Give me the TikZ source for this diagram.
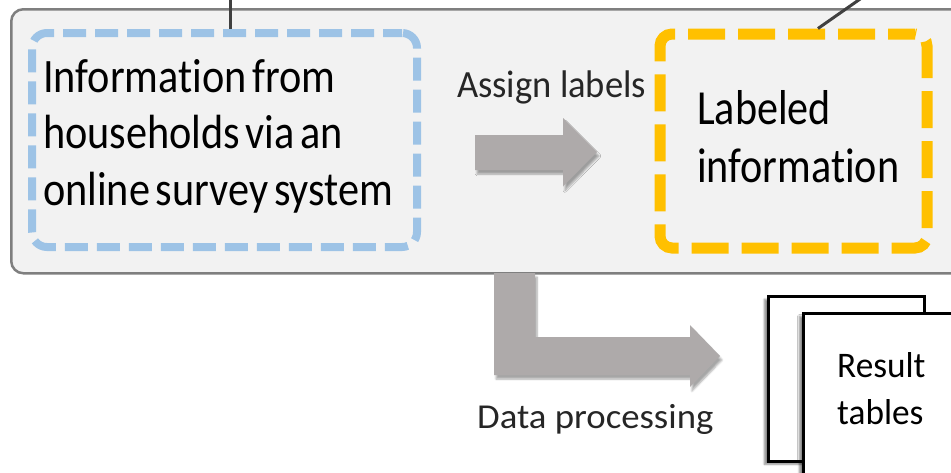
\documentclass[tikz,border=0pt]{standalone}
\usepackage{fontspec}
\setmainfont{Carlito}
\newfontfamily\srcfam[FakeStretch=0.88, WordSpace=0.6, Ligatures=NoCommon]{Carlito}
\newfontfamily\labfam[FakeStretch=0.86, Ligatures=NoCommon]{Carlito}
\newfontfamily\asgfam[FakeStretch=0.95, Ligatures=NoCommon]{Carlito}
\newfontfamily\datfam[FakeStretch=1.05, Ligatures=NoCommon]{Carlito}
\newfontfamily\resfam[FakeStretch=0.98, Ligatures=NoCommon]{Carlito}
\usetikzlibrary{calc,shadows.blur}

\definecolor{framefill}{HTML}{F2F2F2}
\definecolor{frameline}{HTML}{7F7F7F}
\definecolor{softblue}{HTML}{9DC3E6}
\definecolor{gold}{HTML}{FFC000}
\definecolor{arrowgrey}{HTML}{AEAAAA}
\definecolor{inkgrey}{HTML}{262626}
\definecolor{wire}{HTML}{404040}

\tikzset{
  framebox/.style={draw=frameline, fill=framefill, line width=2.5pt, rounded corners=12pt},
  srcbox/.style={draw=softblue, line width=8pt, rounded corners=15pt,
    dash pattern=on 23pt off 9pt, dash phase=4pt, inner sep=0pt},
  labbox/.style={draw=gold, line width=11pt, rounded corners=12pt,
    dash pattern=on 37pt off 13pt, dash phase=10pt, inner sep=0pt},
  bigarrow/.style={fill=arrowgrey, draw=none,
    blur shadow={shadow xshift=2pt, shadow yshift=-4pt, shadow opacity=35, shadow blur steps=6}},
  page/.style={draw=black, fill=white, line width=2.5pt, inner sep=0pt,
    blur shadow={shadow xshift=-4pt, shadow yshift=-3pt, shadow opacity=45, shadow blur steps=5}},
  wireline/.style={draw=wire, line width=3pt},
  txt/.style={anchor=base west, inner sep=0pt},
}

\begin{document}
\begin{tikzpicture}[x=1pt, y=-1pt]
\useasboundingbox (0,0) rectangle (951,472);
\clip (0,0) rectangle (951,472);

% outer frame
\node[framebox, minimum width=960pt, minimum height=264pt, anchor=north west] (frame) at (10,8) {};

% dashed boxes
\node[srcbox, minimum width=385pt, minimum height=214pt] (src) at (224.5,140) {};
\node[labbox, minimum width=267pt, minimum height=214pt] (lab) at (793.5,141) {};

% wires leaving the picture at the top
\coordinate (w1) at (230,-2);
\draw[wireline] (w1) -- (w1 |- src.north);
\coordinate (w2) at (863,-3);
\coordinate (w2end) at ($(lab.north west)!0.588!(lab.north east)$);
\draw[wireline] (w2) -- (w2end);

% texts in the boxes
\node[txt, font=\srcfam\fontsize{48}{56.5}\selectfont] (srctext) at (43,92)
  {\begin{tabular}[t]{@{}l@{}}Information from\\households via an\\online survey system\end{tabular}};
\node[txt, font=\labfam\fontsize{49}{58}\selectfont] (labtext) at (697,124)
  {\begin{tabular}[t]{@{}l@{}}Labeled\\information\end{tabular}};

% assign labels arrow
\node[txt, font=\asgfam\fontsize{38.5}{44}\selectfont, text=inkgrey] (asg) at (457,97) {Assign labels};
\path[bigarrow] (475,135) -- (563,135) -- (563,118) -- (597,152) -- (563,186.5) -- (563,170) -- (475,170) -- cycle;

% data processing arrow
\path[bigarrow] (494,273) -- (535,273) -- (535,337) -- (690,337) -- (690,325) -- (720,356) -- (690,387) -- (690,375) -- (494,375) -- cycle;
\node[txt, font=\datfam\fontsize{35}{40}\selectfont, text=inkgrey] (dat) at (477,428) {Data processing};

% result pages
\node[page, minimum width=156pt, minimum height=165pt, anchor=north west] (pageback) at (767,295) {};
\node[page, minimum width=200pt, minimum height=200pt, anchor=north west] (pagefront) at (802,312) {};
\node[txt, font=\resfam\fontsize{36}{47}\selectfont] (restext) at (837,377)
  {\begin{tabular}[t]{@{}l@{}}Result\\tables\end{tabular}};
\end{tikzpicture}
\end{document}
